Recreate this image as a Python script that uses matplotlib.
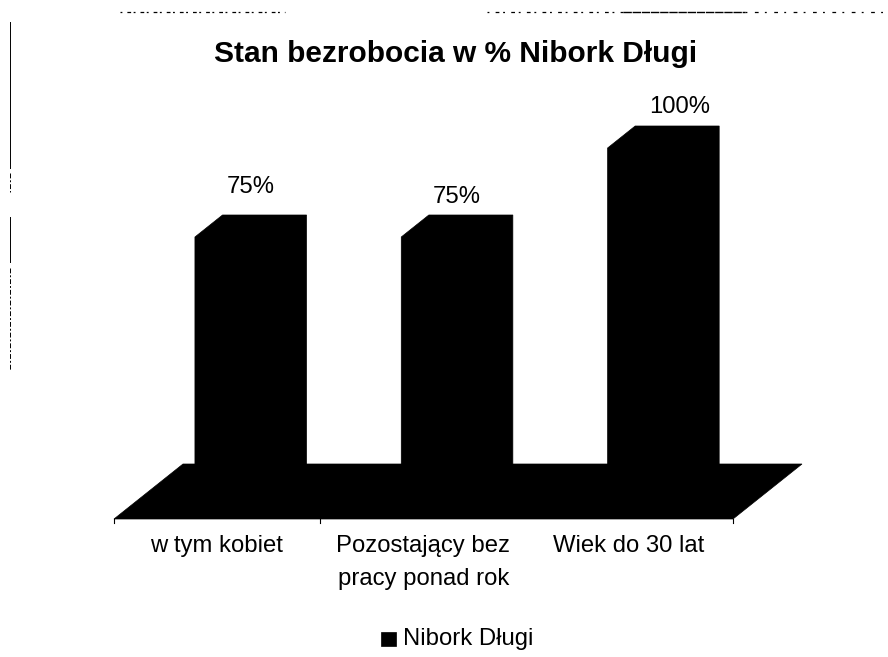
import matplotlib
matplotlib.use('Agg')
from matplotlib import pyplot as plt
from matplotlib.patches import Polygon

plt.rcParams['font.family'] = ['Liberation Sans', 'DejaVu Sans']

title = 'Stan bezrobocia w % Nibork Długi'
categories = ['w tym kobiet', 'Pozostający bez\npracy ponad rok', 'Wiek do 30 lat']
values = [75, 75, 100]
value_labels = ['75%', '75%', '100%']
series_name = 'Nibork Długi'

# pixels of the reference frame
W, H = 888, 657
X0, CAT_W = 114, 206.33
Y0, PX_PER_PCT = 482, 3.56

# oblique floor: how far the back edge is shifted from the front edge
DEPTH_X = 69 / CAT_W
DEPTH_Y = 55 / PX_PER_PCT
FLOOR_FRONT = -37 / PX_PER_PCT
BAR_LEFT, BAR_RIGHT = 0.307, 0.714
BAR_FRONT, BAR_BACK = 0.255, 0.655
BLACK = '#000000'
FONT_SIZE = 17.2


def px(x, y):
    return (x - X0) / CAT_W, (Y0 - y) / PX_PER_PCT


def proj(x, v, depth):
    # v is measured on the back plane of the bars
    base = v + (depth - BAR_BACK) * DEPTH_Y
    return x + depth * DEPTH_X, base


def shape(ax, pts):
    ax.add_patch(Polygon(pts, closed=True, fc=BLACK, ec=BLACK, lw=0.5))


fig = plt.figure(figsize=(W / 100, H / 100), dpi=100)
ax = fig.add_axes([0, 0, 1, 1])
ax.set_xlim(px(0, 0)[0], px(W, 0)[0])
ax.set_ylim(px(0, H)[1], px(0, 0)[1])
ax.axis('off')

# floor
n = len(categories)
shape(ax, [(0, FLOOR_FRONT), (n, FLOOR_FRONT),
           (n + DEPTH_X, FLOOR_FRONT + DEPTH_Y), (DEPTH_X, FLOOR_FRONT + DEPTH_Y)])

# bars
for i, v in enumerate(values):
    l, r = i + BAR_LEFT, i + BAR_RIGHT
    shape(ax, [proj(l, 0, BAR_FRONT), proj(r, 0, BAR_FRONT), proj(r, 0, BAR_BACK),
               proj(r, v, BAR_BACK), proj(l, v, BAR_BACK), proj(l, v, BAR_FRONT)])

# ticks under the floor
tick_y = FLOOR_FRONT - 4 / PX_PER_PCT
for t in [0, 1, 3]:
    ax.plot([t, t], [FLOOR_FRONT, tick_y], color=BLACK, lw=0.8)

# text
ax.text(*px(456, 62), title, fontsize=21.5, fontweight='bold', ha='center', va='baseline')

label_x = [0.664, 1.659, 2.743]
label_up = [6.2, 3.4, 3.6]
for x, v, up, s in zip(label_x, values, label_up, value_labels):
    ax.text(x, v + up, s, fontsize=FONT_SIZE, ha='center', va='baseline')

cat_x = [0.496, 1.50, 2.495]
for x, c in zip(cat_x, categories):
    for k, line in enumerate(c.split('\n')):
        ax.text(x, px(0, 552 + 33 * k)[1], line, fontsize=FONT_SIZE, ha='center', va='baseline')

# legend
ax.add_patch(Polygon([px(381, 646), px(396, 646), px(396, 632), px(381, 632)], fc=BLACK, ec=BLACK, lw=0.5))
ax.text(*px(403, 645), series_name, fontsize=FONT_SIZE, ha='left', va='baseline')

# scan residue of the page frame
for a, b in [(22, 168), (217, 262)]:
    ax.plot(*zip(px(10, a), px(10, b)), color=BLACK, lw=0.7)
for a, b in [(173, 192), (268, 370)]:
    ax.plot(*zip(px(10, a), px(10, b)), color=BLACK, lw=0.7, dashes=(5, 2, 2, 2))
ax.plot(*zip(px(120, 12), px(285, 12)), color=BLACK, lw=0.9, dashes=(1.5, 4, 3, 2))
ax.plot(*zip(px(487, 12), px(623, 12)), color=BLACK, lw=0.9, dashes=(1.5, 5, 3, 3))
ax.plot(*zip(px(623, 12), px(745, 12)), color=BLACK, lw=1.0, dashes=(6, 0.6))
ax.plot(*zip(px(745, 12), px(888, 12)), color=BLACK, lw=0.9, dashes=(1.5, 6, 3, 5))

fig.savefig('out.png', dpi=100)
